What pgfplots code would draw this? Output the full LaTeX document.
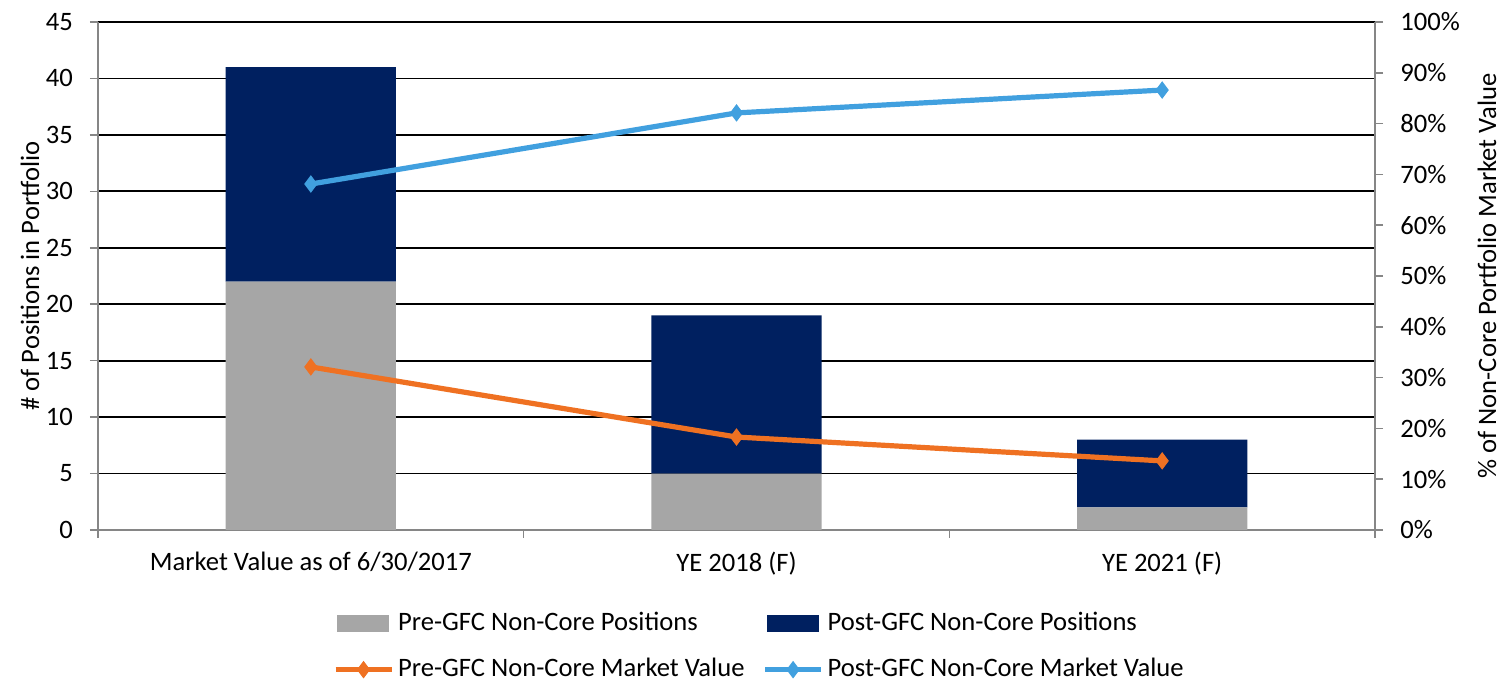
\documentclass[border=0pt]{standalone}
\usepackage{pgfplots}
\pgfplotsset{compat=1.18}
\usetikzlibrary{calc}
\usepackage{fontspec}
\setmainfont{Carlito}
\definecolor{preBar}{HTML}{A6A6A6}
\definecolor{postBar}{HTML}{002060}
\definecolor{preLine}{HTML}{EF7122}
\definecolor{postLine}{HTML}{41A0DF}
\definecolor{axGray}{HTML}{868686}
\newcommand{\chartfont}{\fontsize{13.3pt}{16pt}\selectfont}

\begin{document}
\chartfont
\begin{tikzpicture}
  \pgfplotsset{
    common/.style={
      scale only axis, width=638.5pt, height=254pt,
      xmin=-0.5, xmax=2.5,
      tick align=outside, major tick length=4pt,
      /pgf/number format/assume math mode=true,
      tick label style={font=\chartfont},
      label style={font=\chartfont},
      axis line style={axGray, line width=1pt},
      tick style={axGray, line width=0.8pt},
    },
    mvline/.style={legend image code/.code={
        \draw[##1, mark repeat=2, mark phase=2] plot coordinates {(-1pt,0pt) (13pt,0pt) (27pt,0pt)};}},
  }
  % bars: number of positions
  \begin{axis}[common,
      ybar stacked, bar width=0.4,
      ymin=0, ymax=45, ytick={0,5,...,45},
      axis x line*=bottom, axis y line*=left,
      ymajorgrids, major grid style={black, line width=0.9pt},
      xtick={-0.5,0.5,1.5,2.5}, xticklabels={},
      extra x ticks={0,1,2},
      extra x tick labels={Market Value as of 6/30/2017, YE 2018 (F), YE 2021 (F)},
      extra x tick style={major tick length=0pt, grid=none},
      xticklabel style={yshift=-6.5pt},
      yticklabel style={xshift=-4pt},
      ylabel={\# of Positions in Portfolio},
      ylabel style={at={($(rel axis cs:0,0.5)+(-34pt,0)$)}, anchor=center},
    ]
    \addplot[fill=preBar, draw=none] coordinates {(0,22) (1,5) (2,2)};
    \addplot[fill=postBar, draw=none] coordinates {(0,19) (1,14) (2,6)};
    \coordinate (ll) at (rel axis cs:0,0);
    \coordinate (ur) at (rel axis cs:1,1);
  \end{axis}
  % lines: share of market value
  \begin{axis}[common,
      ymin=0, ymax=100, ytick={0,10,...,100},
      axis x line=none, axis y line*=right,
      yticklabel={\pgfmathprintnumber{\tick}\%},
      yticklabel style={xshift=4pt},
      ylabel={\% of Non-Core Portfolio Market Value},
      ylabel style={at={($(rel axis cs:1,0.5)+(56pt,0)$)}, anchor=center},
      legend columns=2,
      legend style={draw=none, fill=none, at={(0.5186,-0.145)}, anchor=north,
        font=\chartfont, row sep=8pt,
        /tikz/every even column/.append style={column sep=7pt},
        cells={anchor=west, inner xsep=2pt}},
    ]
    \addlegendimage{legend image code/.code={\fill[preBar] (0pt,-4pt) rectangle (25.5pt,4pt);}}
    \addlegendentry{Pre-GFC Non-Core Positions}
    \addlegendimage{legend image code/.code={\fill[postBar] (0pt,-4pt) rectangle (25.5pt,4pt);}}
    \addlegendentry{Post-GFC Non-Core Positions}
    \addplot[preLine, line width=2.6pt, mark=diamond*, mark size=4pt,
      mark options={line width=0.5pt}, mvline] coordinates {(0,32.1) (1,18.3) (2,13.6)};
    \addlegendentry{Pre-GFC Non-Core Market Value}
    \addplot[postLine, line width=2.6pt, mark=diamond*, mark size=4pt,
      mark options={line width=0.5pt}, mvline] coordinates {(0,68.1) (1,82.1) (2,86.6)};
    \addlegendentry{Post-GFC Non-Core Market Value}
  \end{axis}
  \pgfresetboundingbox
  \path[use as bounding box] ($(ll)+(-49pt,-75.5pt)$) rectangle ($(ur)+(63pt,11pt)$);
\end{tikzpicture}
\end{document}
